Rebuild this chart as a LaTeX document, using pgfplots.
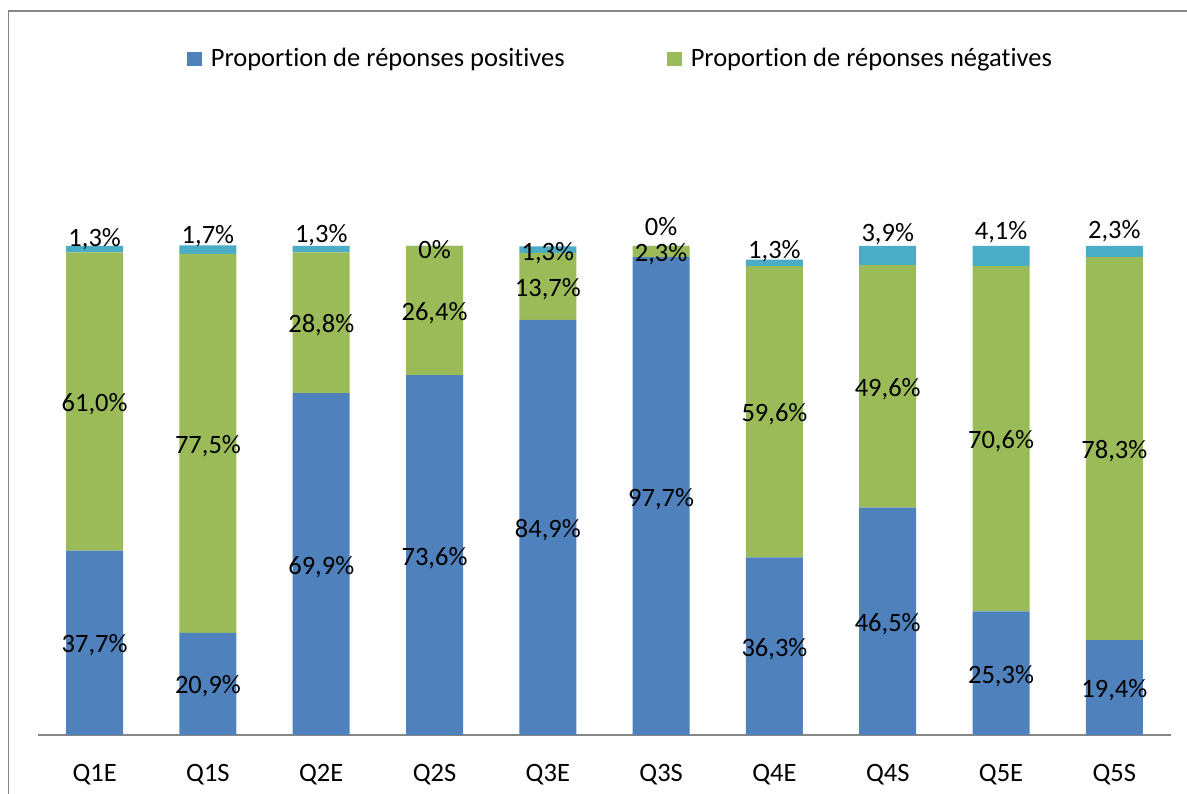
\documentclass[border=0pt]{standalone}
\usepackage{pgfplots}
\pgfplotsset{compat=1.18}
\usepackage{fontspec}
\setmainfont[Ligatures=NoCommon]{Carlito}
\definecolor{cpos}{HTML}{4F81BD}
\definecolor{cneg}{HTML}{9BBB59}
\definecolor{coth}{HTML}{4BACC6}
\definecolor{frame}{HTML}{868686}
\begin{document}
\fontsize{26}{31}\selectfont
\begin{tikzpicture}[x=1pt,y=1pt]
\useasboundingbox (0,0) rectangle (1187,794);
\draw[frame, line width=1.6pt] (8.5,-20) -- (8.5,783) -- (1210,783);
\begin{axis}[
  at={(38pt,59pt)}, anchor=south west,
  scale only axis, width=1133pt, height=489pt,
  ybar stacked, bar width=57pt,
  xmin=-0.5, xmax=9.5, ymin=0, ymax=100,
  clip=false,
  axis y line=none,
  axis x line=bottom,
  x axis line style={-, draw=frame, line width=1.2pt},
  xtick={0,...,9},
  xticklabels={Q1E,Q1S,Q2E,Q2S,Q3E,Q3S,Q4E,Q4S,Q5E,Q5S},
  major tick length=0pt,
  xticklabel style={anchor=base, yshift=-47pt, font=\fontsize{26.5}{31}\selectfont},
  legend columns=2,
  legend style={draw=none, fill=none, at={(0.514,1.382)}, anchor=center,
    font=\fontsize{26.5}{31}\selectfont,
    /tikz/every odd column/.append style={column sep=7pt},
    /tikz/every even column/.append style={column sep=100pt}},
  legend image code/.code={\fill[#1] (0pt,-7pt) rectangle (15pt,7pt);},
  every node near coord/.append style={font=\fontsize{26.5}{31}\selectfont, text=black, anchor=base, inner sep=0pt},
]
\addplot+[ybar, fill=cpos, draw=none,
  point meta=explicit symbolic,
  nodes near coords={\pgfplotspointmeta\%},
  every node near coord/.append style={yshift=-10pt}]
  table[x=x,y=y,meta=lab] {
x y lab
0 37.7 37,7
1 20.9 20,9
2 69.9 69,9
3 73.6 73,6
4 84.9 84,9
5 97.7 97,7
6 36.3 36,3
7 46.5 46,5
8 25.3 25,3
9 19.4 19,4
};
\addplot+[ybar, fill=cneg, draw=none,
  point meta=explicit symbolic,
  nodes near coords={\pgfplotspointmeta\%},
  every node near coord/.append style={yshift=-10pt}]
  table[x=x,y=y,meta=lab] {
x y lab
0 61.0 61,0
1 77.5 77,5
2 28.8 28,8
3 26.4 26,4
4 13.7 13,7
5 2.3 2,3
6 59.6 59,6
7 49.6 49,6
8 70.6 70,6
9 78.3 78,3
};
\addplot+[ybar, fill=coth, draw=none,
  point meta=explicit symbolic,
  nodes near coords={\pgfplotspointmeta\%},
  visualization depends on={\thisrow{dy}\as\dy},
  every node near coord/.append style={yshift={(\dy-8.2)*1pt}}]
  table[x=x,y=y,meta=lab] {
x y lab dy
0 1.3 1,3 11
1 1.7 1,7 14.7
2 1.3 1,3 14.7
3 0.0001 0 -4
4 1.3 1,3 -3
5 0.0001 0 19
6 1.3 1,3 13
7 3.9 3,9 22
8 4.1 4,1 24.5
9 2.3 2,3 21.6
};
\legend{Proportion de réponses positives, Proportion de réponses négatives}
\end{axis}
\end{tikzpicture}
\end{document}
